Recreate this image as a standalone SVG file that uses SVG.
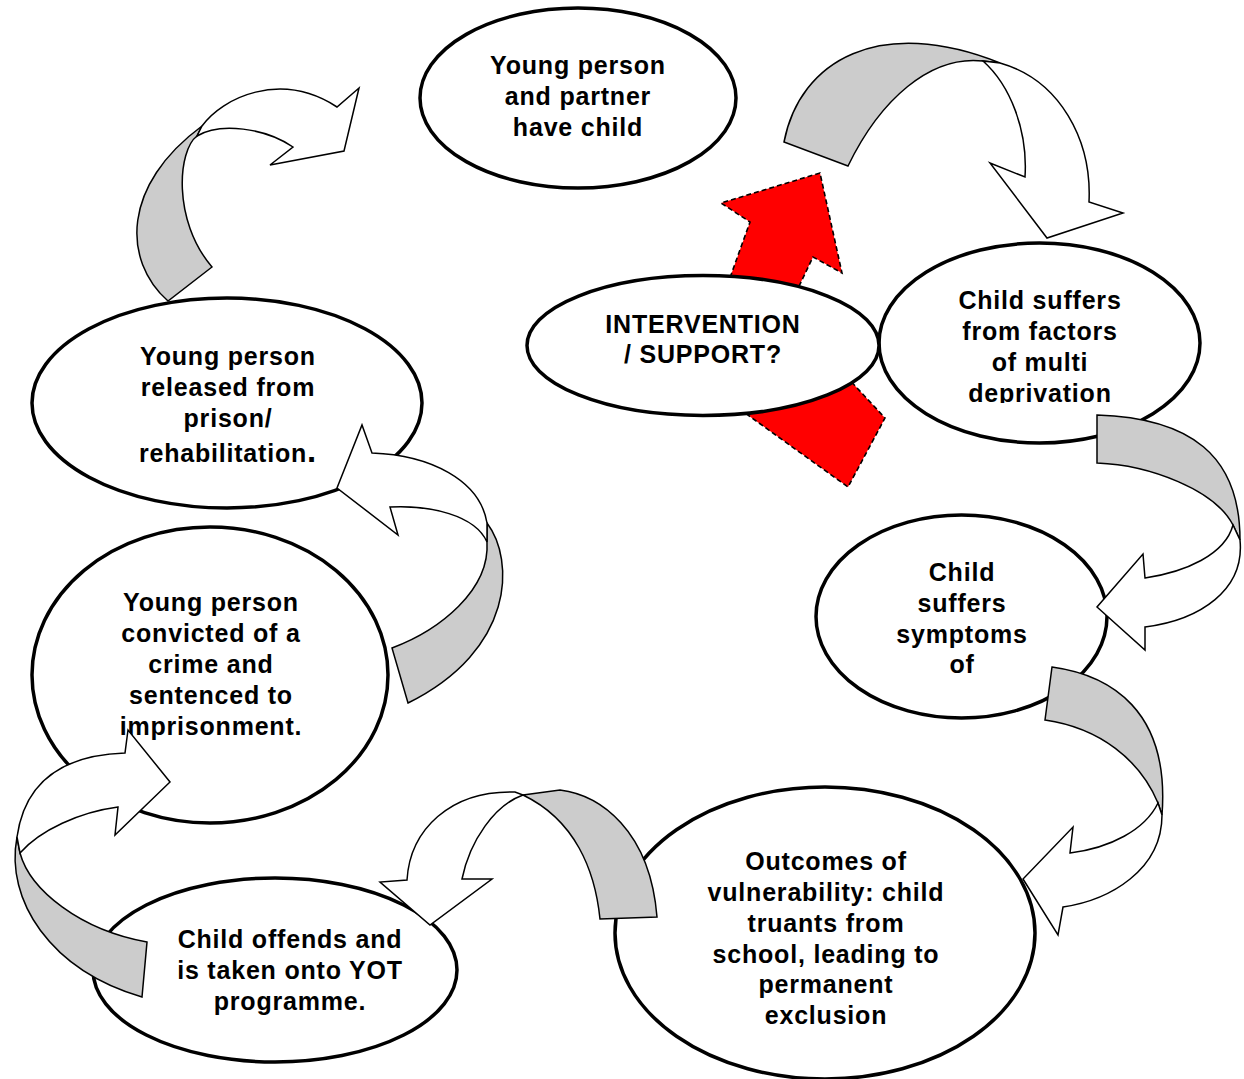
<svg xmlns="http://www.w3.org/2000/svg" width="1244" height="1079" viewBox="0 0 1244 1079">
  <style>
    .node { fill: #ffffff; stroke: #000000; stroke-width: 3.5; }
    .label { font-family: "Liberation Sans", Arial, sans-serif; font-weight: bold; font-size: 25px; letter-spacing: 0.8px; fill: #000000; text-anchor: middle; }
    .back { fill: #cccccc; stroke: #000000; stroke-width: 1.5; stroke-linejoin: miter; }
    .front { fill: #ffffff; stroke: #000000; stroke-width: 1.5; stroke-linejoin: miter; }
    .red { fill: #ff0000; stroke: #000000; stroke-width: 1.6; stroke-dasharray: 5 3; }
  </style>
  <defs>
    <clipPath id="clip-factors">
      <rect x="879" y="243" width="321" height="160"/>
    </clipPath>
  </defs>
  <rect width="1244" height="1079" fill="#ffffff"/>

  <!-- red block arrow behind the intervention ellipse -->
  <g id="intervention-arrow">
    <polygon class="red" points="722,300 750,222 721,203 820,173 842,273 813,257 790,305"/>
    <polygon class="red" points="720,395 848,487 885,418 845,375"/>
  </g>

  <g id="node-parent">
    <ellipse class="node" cx="578" cy="98" rx="158" ry="90"/>
    <text class="label" x="578" y="74">Young person</text>
    <text class="label" x="578" y="105">and partner</text>
    <text class="label" x="578" y="136">have child</text>
  </g>

  <g id="node-factors">
    <ellipse class="node" cx="1039.5" cy="343" rx="160.5" ry="100"/>
    <g clip-path="url(#clip-factors)">
      <text class="label" x="1040" y="309">Child suffers</text>
      <text class="label" x="1040" y="340">from factors</text>
      <text class="label" x="1040" y="371">of multi</text>
      <text class="label" x="1040" y="402">deprivation</text>
    </g>
  </g>

  <g id="node-intervention">
    <ellipse class="node" cx="703" cy="345.5" rx="176" ry="70"/>
    <text class="label" x="703" y="333">INTERVENTION</text>
    <text class="label" x="703" y="363">/ SUPPORT?</text>
  </g>

  <g id="node-symptoms">
    <ellipse class="node" cx="961.5" cy="616.5" rx="145.5" ry="101.5"/>
    <text class="label" x="962" y="581">Child</text>
    <text class="label" x="962" y="612">suffers</text>
    <text class="label" x="962" y="643">symptoms</text>
    <text class="label" x="962" y="673">of</text>
  </g>

  <g id="node-outcomes">
    <ellipse class="node" cx="825" cy="933" rx="210" ry="146"/>
    <text class="label" x="826" y="870">Outcomes of</text>
    <text class="label" x="826" y="901">vulnerability: child</text>
    <text class="label" x="826" y="932">truants from</text>
    <text class="label" x="826" y="963">school, leading to</text>
    <text class="label" x="826" y="993">permanent</text>
    <text class="label" x="826" y="1024">exclusion</text>
  </g>

  <g id="node-offends">
    <ellipse class="node" cx="275" cy="970" rx="182" ry="92"/>
    <text class="label" x="290" y="948">Child offends and</text>
    <text class="label" x="290" y="979">is taken onto YOT</text>
    <text class="label" x="290" y="1010">programme.</text>
  </g>

  <g id="node-convicted">
    <ellipse class="node" cx="210" cy="675" rx="178" ry="148"/>
    <text class="label" x="211" y="611">Young person</text>
    <text class="label" x="211" y="642">convicted of a</text>
    <text class="label" x="211" y="673">crime and</text>
    <text class="label" x="211" y="704">sentenced to</text>
    <text class="label" x="211" y="735">imprisonment.</text>
  </g>

  <g id="node-released">
    <ellipse class="node" cx="227" cy="403" rx="195" ry="105"/>
    <text class="label" x="228" y="365">Young person</text>
    <text class="label" x="228" y="396">released from</text>
    <text class="label" x="228" y="427">prison/</text>
    <text class="label" x="228" y="462">rehabilitation<tspan font-size="33">.</tspan></text>
  </g>

  <!-- curved ribbon arrows: grey back band plus white front band with head -->
  <g id="connectors">
    <g id="arrow-released-parent">
      <path class="back" d="M168,301 C122,260 122,185 202,126 L197,136 C178,150 172,220 212,267 Z"/>
      <path class="front" d="M202,126 C222,98 280,70 337,107 L359,88 L344,151 L270,165 L293,147 C265,128 220,122 197,136 Z"/>
    </g>
    <g id="arrow-parent-factors">
      <path class="back" d="M784,142 C800,60 880,15 1000,63 L983,61 C930,55 880,100 848,166 Z"/>
      <path class="front" d="M1000,63 C1060,80 1092,140 1089,202 L1123,213 L1047,238 L990,163 L1025,177 C1028,130 1010,85 983,61 Z"/>
    </g>
    <g id="arrow-factors-symptoms">
      <path class="back" d="M1097,415 C1190,418 1240,455 1240,540 L1233,525 C1215,490 1150,465 1097,463 Z"/>
      <path class="front" d="M1240,540 C1245,590 1200,620 1145,627 L1145,650 L1097,607 L1143,554 L1145,578 C1185,572 1225,555 1233,525 Z"/>
    </g>
    <g id="arrow-symptoms-outcomes">
      <path class="back" d="M1052,667 C1110,675 1170,710 1162,815 L1158,803 C1140,760 1100,728 1045,720 Z"/>
      <path class="front" d="M1162,815 C1162,870 1110,900 1063,907 L1058,935 L1023,879 L1073,827 L1070,853 C1110,848 1145,830 1158,803 Z"/>
    </g>
    <g id="arrow-outcomes-offends">
      <path class="back" d="M523,795 L560,790 C600,795 650,830 657,917 L600,919 C595,870 575,820 523,795 Z"/>
      <path class="front" d="M515,792 C450,790 410,830 407,880 L380,882 L430,925 L492,879 L462,879 C470,840 495,805 523,795 Z"/>
    </g>
    <g id="arrow-offends-convicted">
      <path class="back" d="M17,837 C5,900 50,970 142,997 L147,942 C80,930 30,890 20,853 Z"/>
      <path class="front" d="M17,837 C25,780 65,755 125,753 L128,730 L170,782 L115,835 L118,807 C80,812 40,830 20,853 Z"/>
    </g>
    <g id="arrow-convicted-released">
      <path class="back" d="M392,648 C440,630 490,590 487,542 L487,523 C515,560 515,650 408,703 Z"/>
      <path class="front" d="M487,523 C480,480 430,455 372,453 L362,425 L337,488 L398,535 L390,507 C430,505 475,515 487,542 Z"/>
    </g>
  </g>
</svg>
